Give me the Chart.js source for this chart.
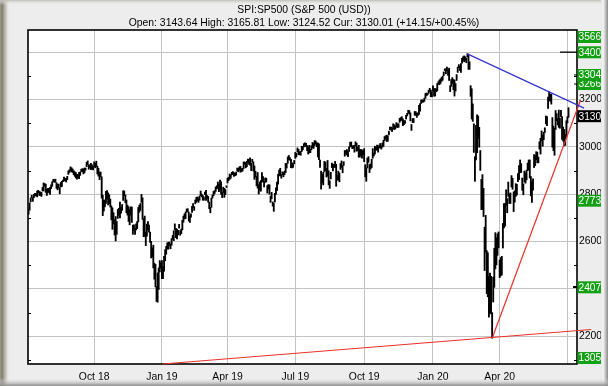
<!DOCTYPE html>
<html>
<head>
<meta charset="utf-8">
<script src="https://cdn.jsdelivr.net/npm/chart.js@4.4.0/dist/chart.umd.min.js"></script>
<style>
  html, body { margin: 0; padding: 0; background: #ededed; }
  canvas { display: block; }
</style>
</head>
<body>
<canvas id="chart" width="608" height="386"></canvas>
<script>
// daily lows / highs, one row per month, Jul 2018 .. Jul 2020
const lows = [
  2716,2733,2768,2786,2770,2786,2793,2793,2789,2807,2795,2795,2791,2814,2814,2835,2808,2795,2806,
  2808,2799,2824,2834,2853,2851,2851,2825,2819,2826,2802,2831,2833,2853,2858,2856,2852,2862,2884,2892,2898,2895,2892,
  2883,2876,2869,2864,2872,2866,2880,2895,2896,2886,2891,2902,2917,2926,2906,2913,2904,2907,2903,
  2917,2912,2918,2886,2877,2862,2874,2784,2710,2729,2747,2761,2781,2755,2760,2746,2692,2652,2675,2628,2603,2631,2698,
  2712,2700,2720,2732,2774,2795,2765,2722,2712,2685,2671,2712,2681,2631,2648,2631,2649,2655,2683,2724,2732,
  2766,2694,2621,2622,2583,2623,2651,2640,2597,2531,2535,2489,2441,2409,2347,2344,2398,2472,2488,
  2444,2444,2475,2519,2547,2569,2568,2582,2570,2585,2609,2604,2650,2617,2612,2628,2657,2627,2634,2650,2682,
  2696,2697,2724,2726,2687,2681,2703,2723,2745,2732,2760,2766,2772,2766,2775,2795,2789,2775,2775,
  2798,2774,2782,2767,2739,2722,2745,2784,2794,2803,2812,2823,2823,2811,2819,2800,2786,2808,2787,2799,2829,
  2848,2858,2863,2868,2882,2884,2876,2879,2881,2899,2895,2901,2893,2896,2898,2909,2926,2912,2917,2936,2926,
  2923,2900,2935,2898,2863,2873,2836,2826,2801,2817,2813,2852,2852,2831,2851,2852,2805,2822,2800,2766,2781,2750,
  2728,2767,2800,2815,2843,2878,2878,2868,2882,2874,2883,2892,2911,2931,2946,2944,2913,2911,2914,2929,
  2952,2958,2979,2967,2967,2965,2981,2988,3000,3008,3001,2984,2970,2975,2976,2988,2996,2994,3006,3013,3001,2958,
  2946,2914,2822,2848,2840,2895,2900,2873,2877,2840,2825,2865,2913,2899,2914,2914,2834,2860,2860,2853,2905,2914,
  2891,2922,2961,2973,2966,2959,2981,3000,3001,2993,2995,2978,3005,2982,2984,2957,2957,2964,2953,2967,
  2938,2874,2855,2911,2935,2892,2907,2913,2952,2962,2970,2985,2989,2978,2997,2995,2991,2999,3003,3027,3033,3023,3024,
  3051,3073,3071,3065,3078,3073,3076,3084,3082,3083,3104,3110,3112,3090,3094,3099,3118,3131,3143,3139,
  3110,3070,3103,3103,3134,3134,3125,3133,3138,3151,3184,3189,3189,3193,3206,3217,3220,3227,3235,3212,3212,
  3235,3215,3215,3233,3237,3265,3263,3268,3277,3282,3301,3323,3309,3321,3302,3281,3234,3256,3268,3242,3215,
  3236,3281,3315,3335,3323,3315,3354,3366,3360,3366,3356,3380,3328,3328,3214,3118,3108,2977,2855,
  2945,2976,3035,2999,2901,2735,2735,2706,2478,2556,2380,2367,2281,2299,2295,2192,2345,2407,2485,2502,2542,2574,
  2448,2455,2459,2573,2658,2665,2754,2722,2791,2761,2761,2831,2821,2727,2767,2791,2797,2853,2862,2891,2892,
  2817,2798,2852,2847,2861,2900,2903,2869,2793,2766,2817,2913,2921,2946,2933,2933,2991,2970,3026,3003,
  3031,3061,3098,3090,3163,3197,3193,3181,2999,2984,2965,3074,3110,3093,3083,3079,3127,3032,3025,3005,3007,3044,
  3101,3125
];
const highs = [
  2737,2764,2785,2796,2785,2800,2804,2803,2814,2817,2812,2810,2808,2829,2848,2845,2843,2821,2825,
  2825,2829,2840,2853,2863,2862,2864,2849,2843,2843,2828,2850,2855,2860,2873,2867,2868,2876,2899,2904,2916,2912,2907,
  2900,2895,2892,2884,2883,2893,2894,2906,2908,2908,2911,2911,2935,2941,2925,2924,2931,2925,2916,
  2937,2931,2940,2919,2910,2894,2894,2874,2796,2775,2776,2813,2816,2806,2798,2780,2751,2743,2722,2693,2706,2685,2736,
  2741,2767,2744,2757,2815,2814,2797,2776,2754,2747,2735,2747,2746,2670,2671,2655,2675,2685,2744,2754,2761,
  2800,2785,2697,2708,2640,2674,2685,2670,2640,2601,2573,2585,2509,2504,2410,2468,2489,2520,2510,
  2520,2494,2538,2566,2580,2595,2598,2598,2589,2613,2626,2646,2675,2656,2653,2648,2673,2647,2653,2690,2708,
  2717,2725,2738,2739,2725,2708,2718,2749,2761,2748,2776,2787,2789,2785,2793,2814,2801,2795,2789,
  2809,2817,2795,2791,2767,2745,2784,2797,2812,2816,2831,2836,2852,2843,2860,2853,2809,2830,2825,2820,2836,
  2868,2872,2886,2881,2893,2896,2892,2889,2894,2911,2910,2916,2918,2908,2910,2937,2936,2934,2940,2949,2948,
  2954,2931,2948,2937,2920,2897,2875,2892,2841,2852,2858,2892,2875,2853,2869,2868,2837,2841,2840,2792,2808,2768,
  2762,2804,2827,2852,2885,2903,2910,2883,2895,2891,2898,2931,2930,2958,2964,2955,2948,2933,2929,2943,
  2977,2973,2996,2990,2980,2981,3003,3002,3014,3017,3015,3006,2998,3007,2990,3005,3019,3016,3027,3025,3017,3017,
  3013,2945,2898,2885,2893,2939,2936,2910,2943,2899,2857,2893,2932,2927,2928,2939,2927,2879,2898,2890,2930,2941,
  2922,2938,2985,2985,2989,2981,3001,3020,3021,3004,3006,3007,3022,3016,2999,3007,2990,2989,2988,2984,
  2993,2925,2911,2953,2959,2926,2929,2948,2993,2973,3003,2998,3008,3000,3008,3015,3005,3017,3028,3044,3047,3050,3047,
  3067,3084,3084,3079,3098,3094,3089,3103,3098,3098,3121,3124,3128,3119,3112,3112,3134,3142,3155,3154,
  3144,3095,3120,3120,3150,3149,3143,3144,3176,3183,3198,3199,3198,3206,3226,3228,3226,3240,3248,3241,3232,
  3258,3247,3247,3245,3268,3276,3283,3288,3294,3299,3317,3330,3330,3338,3327,3333,3259,3285,3293,3285,3283,
  3268,3306,3337,3348,3341,3352,3375,3381,3385,3381,3375,3394,3392,3360,3259,3246,3182,3098,2959,
  3091,3136,3131,3083,2985,2863,2883,2825,2661,2711,2562,2553,2453,2467,2453,2300,2450,2572,2638,2616,2633,2641,
  2522,2533,2538,2677,2761,2761,2819,2782,2852,2801,2806,2879,2868,2810,2815,2845,2842,2888,2921,2945,2930,
  2869,2844,2898,2891,2902,2932,2945,2945,2875,2853,2865,2968,2964,2980,2978,2957,3022,3037,3068,3050,
  3062,3081,3131,3128,3211,3233,3223,3223,3124,3088,3079,3154,3141,3120,3156,3121,3155,3128,3084,3074,3053,3111,
  3128,3166
];

// x axis: trading-day index of each quarter start
const tickIdx = [61, 124, 185, 248, 312, 376, 438, 501];
const tickLabels = ['Oct 18', 'Jan 19', 'Apr 19', 'Jul 19', 'Oct 19', 'Jan 20', 'Apr 20', ''];
const yGrid = [2200, 2400, 2600, 2800, 3000, 3200, 3400];
const yMinor = [2100, 2300, 2500, 2700, 2900, 3100, 3300];

// trend lines (index, price)
const blueLine = [{x: 408, y: 3393.5}, {x: 516.5, y: 3164}];
const redSteep = [{x: 431, y: 2191.9}, {x: 513.2, y: 3198.5}];
const redBase = [{x: 124.6, y: 2083}, {x: 523, y: 2228.8}];

// price level boxes on the right axis
const levels = [3566, 3400, 3266, 3304, 3130, 2773, 2407, 1305];
const levelText = ['3566.37', '3400.00', '3266.00', '3304.00', '3130.01', '2773.00', '2407.00', '1305.00'];
const levelFill = ['#14a014', '#14a014', '#14a014', '#14a014', '#000000', '#14a014', '#14a014', '#14a014'];

const FONT = '10.2px "Liberation Sans", Arial, sans-serif';
const Y_MIN = 2083, Y_MAX = 3494.2;

const deco = {
  id: 'deco',
  beforeDraw(c) {
    const ctx = c.ctx, a = c.chartArea;
    ctx.save();
    ctx.fillStyle = '#ededed';
    ctx.fillRect(0, 0, c.width, c.height);
    ctx.fillStyle = '#ffffff';
    ctx.fillRect(a.left, a.top, a.right - a.left, a.bottom - a.top);
    ctx.restore();
  },
  beforeDatasetsDraw(c) {
    const ctx = c.ctx, a = c.chartArea, y = c.scales.y;
    ctx.save();
    ctx.strokeStyle = '#000';
    ctx.lineWidth = 1;
    yMinor.forEach(v => {
      const p = Math.round(y.getPixelForValue(v)) + 0.5;
      ctx.beginPath();
      ctx.moveTo(a.left, p); ctx.lineTo(a.left + 3, p);
      ctx.moveTo(a.right - 3, p); ctx.lineTo(a.right, p);
      ctx.stroke();
    });
    ctx.lineWidth = 1.6;
    ctx.strokeRect(a.left, a.top, a.right - a.left, a.bottom - a.top);
    ctx.restore();
  },
  afterDraw(c) {
    const ctx = c.ctx, a = c.chartArea, y = c.scales.y;
    ctx.save();
    // level markers on the axis
    ctx.fillStyle = '#000';
    ctx.fillRect(a.right - 17, Math.round(y.getPixelForValue(3400)) - 0.5, 17, 1.3);
    ctx.fillRect(a.right - 4, Math.round(y.getPixelForValue(2407)) - 1, 4, 2);
    ctx.fillRect(a.right - 3, Math.round(y.getPixelForValue(3304)) - 0.5, 3, 1);
    ctx.fillRect(a.right - 3, Math.round(y.getPixelForValue(3266)) - 0.5, 3, 1);
    // boxes
    ctx.font = FONT;
    ctx.textBaseline = 'middle';
    ctx.textAlign = 'left';
    levels.forEach((v, i) => {
      let p = y.getPixelForValue(v);
      if (v > Y_MAX) p = a.top + 7;
      if (v < Y_MIN) p = a.bottom - 6;
      ctx.fillStyle = levelFill[i];
      ctx.fillRect(a.right + 0.5, p - 6, 26, 12);
      ctx.fillStyle = '#fff';
      ctx.fillText(levelText[i], a.right + 1.5, p + 0.5);
    });
    // bevel frame
    let g = ctx.createLinearGradient(0, 0, 10, 0);
    g.addColorStop(0, '#9c9c90'); g.addColorStop(0.2, '#80806f');
    g.addColorStop(0.6, '#c8c8c0'); g.addColorStop(1, 'rgba(237,237,237,0)');
    ctx.fillStyle = g; ctx.fillRect(0, 0, 10, c.height);
    g = ctx.createLinearGradient(0, 0, 0, 5);
    g.addColorStop(0, '#c0c0b8'); g.addColorStop(1, 'rgba(237,237,237,0)');
    ctx.fillStyle = g; ctx.fillRect(0, 0, c.width, 5);
    g = ctx.createLinearGradient(601, 0, 608, 0);
    g.addColorStop(0, '#e4e4e4'); g.addColorStop(0.3, '#f6f6f6');
    g.addColorStop(1, '#8a8a8a');
    ctx.fillStyle = g; ctx.fillRect(601, 0, 7, c.height);
    g = ctx.createLinearGradient(0, 378, 0, 386);
    g.addColorStop(0, 'rgba(237,237,237,0)'); g.addColorStop(1, '#8a8a8a');
    ctx.fillStyle = g; ctx.fillRect(0, 378, c.width, 8);
    // titles
    ctx.font = '10.4px "Liberation Sans", Arial, sans-serif';
    ctx.fillStyle = '#000';
    ctx.textAlign = 'center';
    ctx.fillText('SPI:SP500 (S&P 500 (USD))', 304, 10);
    ctx.fillText('Open: 3143.64 High: 3165.81 Low: 3124.52 Cur: 3130.01 (+14.15/+00.45%)', 304, 23);
    ctx.restore();
  }
};

new Chart(document.getElementById('chart'), {
  type: 'bar',
  data: {
    datasets: [
      {type: 'line', data: blueLine, borderColor: '#3434d0', borderWidth: 1.2, pointRadius: 0, clip: false, order: 0},
      {type: 'line', data: redSteep, borderColor: '#e8322a', borderWidth: 1.2, pointRadius: 0, clip: false, order: 0},
      {type: 'line', data: redBase, borderColor: '#e8322a', borderWidth: 1.2, pointRadius: 0, clip: false, order: 0},
      {
        data: lows.map((l, i) => ({x: i, y: [l, highs[i]]})),
        backgroundColor: '#000',
        borderWidth: 0,
        barThickness: 1.2,
        order: 1
      }
    ]
  },
  options: {
    responsive: false,
    animation: false,
    events: [],
    layout: {padding: {left: 28, top: 30, right: 0, bottom: 0}},
    plugins: {legend: {display: false}, tooltip: {enabled: false}, title: {display: false}},
    scales: {
      x: {
        type: 'linear',
        min: -0.5,
        max: 509.9,
        offset: false,
        afterBuildTicks: s => { s.ticks = tickIdx.map(v => ({value: v})); },
        afterFit: s => { s.height = 22; },
        grid: {color: '#c2c2c2', drawTicks: false, offset: false},
        border: {display: false},
        ticks: {
          autoSkip: false, maxRotation: 0, padding: 7, color: '#000',
          font: {family: '"Liberation Sans", Arial, sans-serif', size: 10.4},
          callback: (v, i) => tickLabels[i]
        }
      },
      y: {
        type: 'linear',
        position: 'right',
        min: Y_MIN,
        max: Y_MAX,
        afterBuildTicks: s => { s.ticks = yGrid.map(v => ({value: v})); },
        afterFit: s => { s.width = 31; },
        grid: {color: '#c2c2c2', drawTicks: false},
        border: {display: false},
        ticks: {
          padding: 2, color: '#000',
          font: {family: '"Liberation Sans", Arial, sans-serif', size: 10.4},
          callback: v => String(v)
        }
      }
    }
  },
  plugins: [deco]
});
</script>
</body>
</html>
